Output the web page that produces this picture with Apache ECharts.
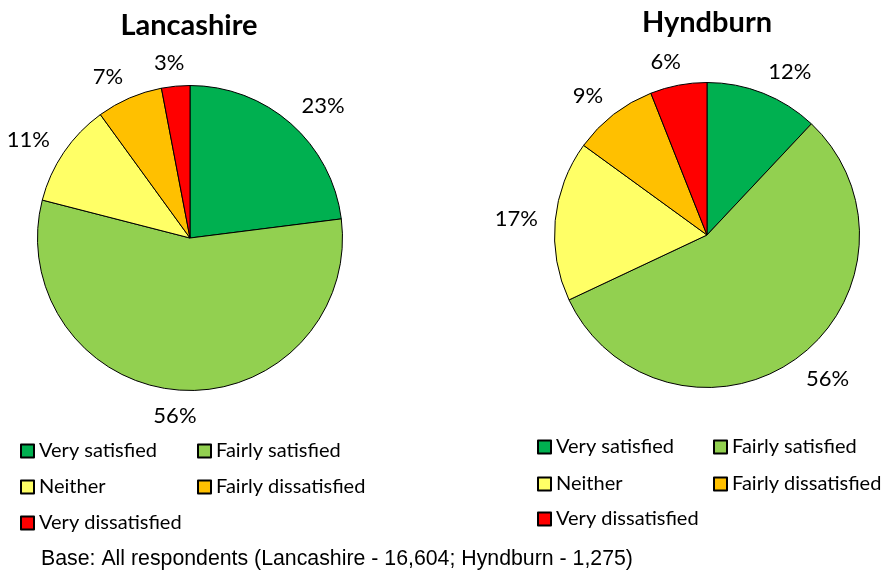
<!DOCTYPE html>
<html><head><meta charset="utf-8">
<script src="https://cdn.jsdelivr.net/npm/echarts@6/dist/echarts.min.js"></script>
<style>html,body{margin:0;padding:0;background:#fff}#c{width:885px;height:575px}</style>
</head><body><div id="c"></div>
<script>
const categories = ['Very satisfied','Fairly satisfied','Neither','Fairly dissatisfied','Very dissatisfied'];
const lancashire = [23, 56, 11, 7, 3];
const hyndburn = [12, 56, 17, 9, 6];
const titles = ['Lancashire', 'Hyndburn'];
const baseNote = 'Base: All respondents (Lancashire - 16,604; Hyndburn - 1,275)';
const colors = ['#00B050','#92D050','#FFFF66','#FFC000','#FF0000'];

const FONT = 'Lato';
const R = 152.5;
const centers = [[190, 238], [707, 235]];
const chart = echarts.init(document.getElementById('c'));

// Excel-like "outside end" placement: anchor just beyond the rim at the slice's
// mid-angle, with the label box pushed sideways away from the pie
function makeLabelLayout(vals, center) {
  const total = vals.reduce((a, b) => a + b, 0);
  return function (params) {
    const i = params.dataIndex;
    let cum = 0;
    for (let k = 0; k < i; k++) cum += vals[k];
    const ang = 2 * Math.PI * (cum + vals[i] / 2) / total;
    const dx = Math.sin(ang), dy = -Math.cos(ang);
    const hw = params.labelRect.width / 2;
    const K = 172;
    const s = 0.9 * Math.max(-1, Math.min(1, 3.5 * dx));
    return {
      x: center[0] + K * dx + hw * s,
      y: center[1] + K * dy + 5 * dy + 1,
      align: 'center', verticalAlign: 'middle'
    };
  };
}

function pieSeries(name, vals, center) {
  return {
    type: 'pie', name: name, center: center, radius: R,
    startAngle: 90, clockwise: true, avoidLabelOverlap: false,
    animation: false, silent: true,
    itemStyle: { borderColor: '#000', borderWidth: 1 },
    label: { show: true, position: 'outside', formatter: '{c}%', color: '#000',
             fontFamily: FONT, fontSize: 22 },
    labelLine: { show: false },
    labelLayout: makeLabelLayout(vals, center),
    data: categories.map((c, i) => ({ name: c, value: vals[i], itemStyle: { color: colors[i] } }))
  };
}

const legendPos = [
  // Lancashire
  [20, 451], [197, 451], [20, 487], [197, 487], [20, 523],
  // Hyndburn
  [537, 447], [713, 447], [537, 484], [713, 484], [537, 519]
];
const legends = legendPos.map((p, k) => ({
  data: [categories[k % 5]], left: p[0], top: p[1] - 10, padding: 0,
  icon: 'rect', itemWidth: 13, itemHeight: 13, itemGap: 0,
  textStyle: { fontFamily: FONT, fontSize: 20, color: '#000' },
  selectedMode: false
}));

chart.setOption({
  animation: false,
  title: [
    { text: titles[0], left: 184, top: 6, textAlign: 'center',
      textStyle: { fontFamily: FONT, fontWeight: 'bold', fontSize: 29, color: '#000' } },
    { text: titles[1], left: 702, top: 3, textAlign: 'center',
      textStyle: { fontFamily: FONT, fontWeight: 'bold', fontSize: 29, color: '#000' } }
  ],
  legend: legends,
  series: [
    pieSeries(titles[0], lancashire, centers[0]),
    pieSeries(titles[1], hyndburn, centers[1])
  ],
  graphic: [{
    type: 'text', left: 41, top: 549,
    style: { text: baseNote, fontFamily: 'Liberation Sans', fontSize: 21.3, fill: '#000' }
  }]
});
</script></body></html>
